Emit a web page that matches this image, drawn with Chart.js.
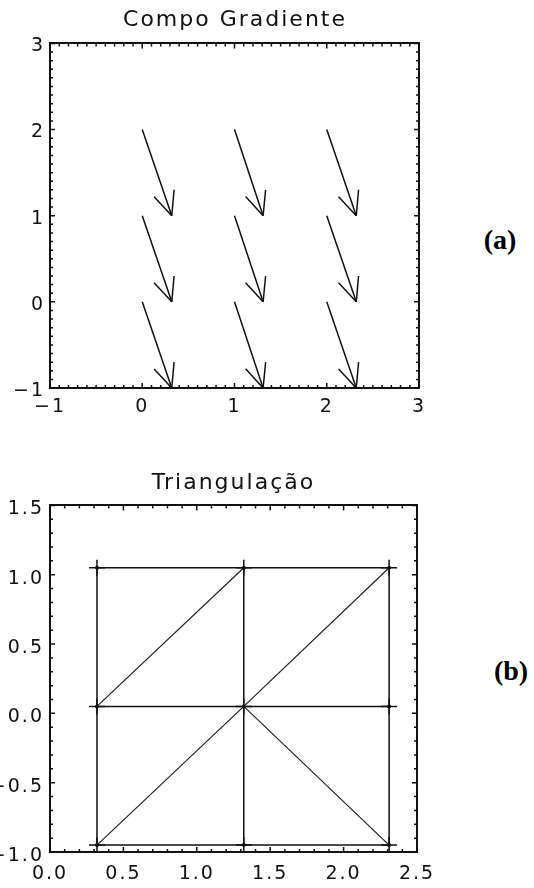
<!DOCTYPE html>
<html>
<head>
<meta charset="utf-8">
<title>Campo Gradiente / Triangulação</title>
<script src="https://cdn.jsdelivr.net/npm/chart.js@4.4.1/dist/chart.umd.min.js"></script>
<style>
  body { margin: 0; background: #fff; }
  #page { position: relative; width: 534px; height: 888px; overflow: hidden; background: #fff; }
  canvas { position: absolute; left: 0; }
  #gradCanvas { top: 0; }
  #triCanvas { top: 440px; }
  .tag {
    position: absolute;
    font: bold 28px 'Liberation Serif', 'Times New Roman', serif;
    color: #000;
    transform: translate(-50%, -50%);
    white-space: nowrap;
  }
</style>
</head>
<body>
<div id="page">
  <canvas id="gradCanvas" width="470" height="430"></canvas>
  <canvas id="triCanvas" width="467" height="448"></canvas>
  <div class="tag" style="left:500px; top:240px">(a)</div>
  <div class="tag" style="left:511px; top:671px">(b)</div>
</div>
<script>
// Gradient field: arrow origins (x, y) and components (u, v)
const gradX = [0, 1, 2, 0, 1, 2, 0, 1, 2];
const gradY = [2, 2, 2, 1, 1, 1, 0, 0, 0];
const gradU = [0.32, 0.31, 0.32, 0.32, 0.31, 0.32, 0.32, 0.31, 0.32];
const gradV = [-1, -1, -1, -1, -1, -1, -1, -1, -1];
const gradXTicks = [-1, 0, 1, 2, 3];
const gradYTicks = [-1, 0, 1, 2, 3];

// Triangulation: nodes (row by row, bottom first) and edges by node index
const nodeX = [0.32, 1.32, 2.31, 0.32, 1.32, 2.31, 0.32, 1.32, 2.31];
const nodeY = [-0.95, -0.95, -0.95, 0.05, 0.05, 0.05, 1.05, 1.05, 1.05];
const gridEdges = [[0, 1], [1, 2], [3, 4], [4, 5], [6, 7], [7, 8],
                   [0, 3], [3, 6], [1, 4], [4, 7], [2, 5], [5, 8]];
const diagEdges = [[3, 7], [4, 8], [0, 4], [4, 2]];
const triXTicks = [0, 0.5, 1, 1.5, 2, 2.5];
const triYTicks = [-1, -0.5, 0, 0.5, 1, 1.5];

const INK = '#111';
const FONT = "'DejaVu Sans', sans-serif";
const GAP = { x: NaN, y: NaN };  // breaks the polyline between segments

function fmt(v, digits) {
  return v.toFixed(digits).replace('-', '\u2212');
}

function edgePoints(edges) {
  const pts = [];
  edges.forEach(([a, b]) => {
    pts.push({ x: nodeX[a], y: nodeY[a] }, { x: nodeX[b], y: nodeY[b] }, GAP);
  });
  return pts;
}

// wide spacing for all text drawn on the canvas
const spacedText = {
  id: 'spacedText',
  beforeLayout(chart) { chart.ctx.letterSpacing = '2px'; },
  beforeDraw(chart) { chart.ctx.letterSpacing = '2px'; }
};

// inward major/minor tick marks on all four sides of the frame
const frameTicks = {
  id: 'frameTicks',
  afterDraw(chart, args, opts) {
    const { ctx, chartArea: a, scales } = chart;
    ctx.save();
    ctx.strokeStyle = INK;
    ctx.lineWidth = 1.5;
    ctx.beginPath();
    const mark = (scale, v, len) => {
      const p = scale.getPixelForValue(v);
      if (scale.isHorizontal()) {
        ctx.moveTo(p, a.bottom); ctx.lineTo(p, a.bottom - len);
        ctx.moveTo(p, a.top); ctx.lineTo(p, a.top + len);
      } else {
        ctx.moveTo(a.left, p); ctx.lineTo(a.left + len, p);
        ctx.moveTo(a.right, p); ctx.lineTo(a.right - len, p);
      }
    };
    [[scales.x, opts.xMinor], [scales.y, opts.yMinor]].forEach(([s, step]) => {
      const n = Math.round((s.max - s.min) / step);
      for (let i = 1; i < n; i++) mark(s, s.min + i * step, opts.minorLen);
      s.ticks.forEach(t => mark(s, t.value, opts.majorLen));
    });
    ctx.stroke();
    ctx.restore();
  }
};

// arrow heads at the tip of each gradient vector
const arrowHeads = {
  id: 'arrowHeads',
  afterDatasetsDraw(chart, args, opts) {
    const { ctx, scales: { x, y } } = chart;
    ctx.save();
    ctx.strokeStyle = INK;
    ctx.lineWidth = 1.5;
    ctx.beginPath();
    gradX.forEach((x0, i) => {
      const px0 = x.getPixelForValue(x0), py0 = y.getPixelForValue(gradY[i]);
      const px1 = x.getPixelForValue(x0 + gradU[i]), py1 = y.getPixelForValue(gradY[i] + gradV[i]);
      const back = Math.atan2(py0 - py1, px0 - px1);
      [-1, 1].forEach(side => {
        const ang = back + side * opts.spread;
        ctx.moveTo(px1, py1);
        ctx.lineTo(px1 + opts.length * Math.cos(ang), py1 + opts.length * Math.sin(ang));
      });
    });
    ctx.stroke();
    ctx.restore();
  }
};

function axes(o) {
  const border = { display: true, color: INK, width: 2 };
  const tickFont = { family: FONT, size: 19 };
  return {
    x: {
      type: 'linear', position: 'bottom', min: o.xMin, max: o.xMax,
      afterBuildTicks: s => { s.ticks = o.xTicks.map(value => ({ value })); },
      ticks: { color: INK, font: tickFont, padding: o.xPad, maxRotation: 0,
               callback: v => fmt(v, o.digits) },
      grid: { display: false, drawTicks: false },
      border,
      afterFit: s => { s.height = o.bottom; }
    },
    y: {
      type: 'linear', position: 'left', min: o.yMin, max: o.yMax,
      afterBuildTicks: s => { s.ticks = o.yTicks.map(value => ({ value })); },
      ticks: { color: INK, font: tickFont, padding: o.yPad, labelOffset: o.yOffset,
               callback: v => fmt(v, o.digits) },
      grid: { display: false, drawTicks: false },
      border,
      afterFit: s => { s.width = 50; }
    },
    x2: {
      type: 'linear', axis: 'x', position: 'top', min: o.xMin, max: o.xMax,
      ticks: { display: false }, grid: { display: false, drawTicks: false }, border,
      afterFit: s => { s.height = 0; }
    },
    y2: {
      type: 'linear', axis: 'y', position: 'right', min: o.yMin, max: o.yMax,
      ticks: { display: false }, grid: { display: false, drawTicks: false }, border,
      afterFit: s => { s.width = o.right; }
    }
  };
}

function titleOpts(text, top, bottom) {
  return {
    display: true, text, color: INK,
    font: { family: FONT, size: 22, weight: 'normal' },
    padding: { top, bottom }
  };
}

// (a) gradient field
new Chart(document.getElementById('gradCanvas'), {
  type: 'scatter',
  data: {
    datasets: [{
      data: gradX.flatMap((x0, i) => [
        { x: x0, y: gradY[i] },
        { x: x0 + gradU[i], y: gradY[i] + gradV[i] },
        GAP
      ]),
      showLine: true,
      borderColor: INK,
      borderWidth: 1.5,
      pointRadius: 0,
      clip: false
    }]
  },
  options: {
    responsive: false,
    animation: false,
    events: [],
    layout: { padding: 0 },
    scales: axes({ xMin: -1, xMax: 3, yMin: -1, yMax: 3, xTicks: gradXTicks, yTicks: gradYTicks,
                   digits: 0, xPad: 8, yPad: 5, yOffset: 3, bottom: 42, right: 51 }),
    plugins: {
      legend: { display: false },
      tooltip: { enabled: false },
      title: titleOpts('Compo Gradiente', 7, 10),
      frameTicks: { xMinor: 0.1, yMinor: 0.1, majorLen: 5, minorLen: 3 },
      arrowHeads: { length: 26, spread: 24 * Math.PI / 180 }
    }
  },
  plugins: [spacedText, frameTicks, arrowHeads]
});

// (b) triangulation of the arrow tips
new Chart(document.getElementById('triCanvas'), {
  type: 'scatter',
  data: {
    datasets: [
      {
        data: edgePoints(gridEdges),
        showLine: true, borderColor: INK, borderWidth: 1.5, pointRadius: 0
      },
      {
        data: edgePoints(diagEdges),
        showLine: true, borderColor: '#222', borderWidth: 1.2, pointRadius: 0
      },
      {
        data: nodeX.map((x, i) => ({ x, y: nodeY[i] })),
        pointStyle: 'cross', pointRadius: 8, pointBorderWidth: 1.5,
        pointBorderColor: INK, clip: false
      },
      {
        data: nodeX.map((x, i) => ({ x, y: nodeY[i] })),
        pointStyle: 'circle', pointRadius: 2, pointBorderWidth: 0,
        pointBackgroundColor: INK
      }
    ]
  },
  options: {
    responsive: false,
    animation: false,
    events: [],
    layout: { padding: 0 },
    scales: axes({ xMin: 0, xMax: 2.5, yMin: -1, yMax: 1.5, xTicks: triXTicks, yTicks: triYTicks,
                   digits: 1, xPad: 11, yPad: 6, yOffset: 4, bottom: 36, right: 50 }),
    plugins: {
      legend: { display: false },
      tooltip: { enabled: false },
      title: titleOpts('Triangulação', 30, 9),
      frameTicks: { xMinor: 0.1, yMinor: 0.1, majorLen: 5, minorLen: 3 }
    }
  },
  plugins: [spacedText, frameTicks]
});
</script>
</body>
</html>
